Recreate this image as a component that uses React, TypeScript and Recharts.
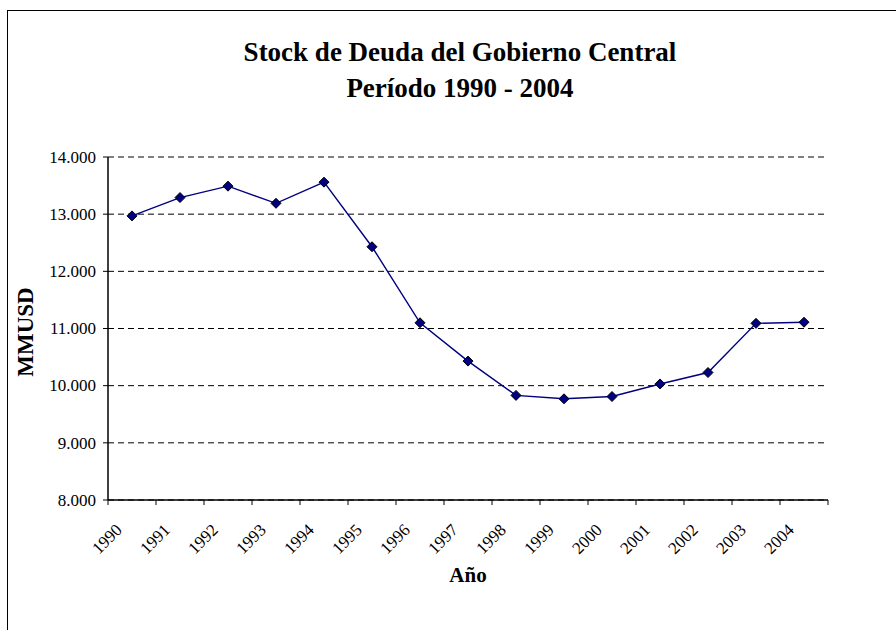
import { CartesianGrid, Line, LineChart, XAxis, YAxis } from 'recharts'

const years = ['1990', '1991', '1992', '1993', '1994', '1995', '1996', '1997', '1998', '1999', '2000', '2001', '2002', '2003', '2004']
const deuda = [12970, 13290, 13490, 13190, 13560, 12430, 11100, 10430, 9830, 9770, 9810, 10030, 10230, 11090, 11110]
const yTicks = [8000, 9000, 10000, 11000, 12000, 13000, 14000]

const data = years.map((year, i) => ({ year, deuda: deuda[i] }))

const FONT = '"Liberation Serif", "Times New Roman", serif'
const BAND = 48

function fmt(v: number) {
  return `${Math.round(v / 1000)}.000`
}

function YearTick(props: any) {
  const { x, y, payload, index } = props
  const last = index === years.length - 1
  return (
    <g>
      <line x1={x - BAND / 2} y1={y} x2={x - BAND / 2} y2={y + 5} stroke="#000" />
      {last && <line x1={x + BAND / 2} y1={y} x2={x + BAND / 2} y2={y + 5} stroke="#000" />}
      <text
        transform={`translate(${x - 9},${y + 31}) rotate(-45)`}
        textAnchor="end"
        fontFamily={FONT}
        fontSize={17}
        fill="#000"
      >
        {payload.value}
      </text>
    </g>
  )
}

function ValueTick(props: any) {
  const { x, y, payload } = props
  return (
    <text x={x} y={y} dy="0.34em" textAnchor="end" fontFamily={FONT} fontSize={17} fill="#000">
      {fmt(payload.value)}
    </text>
  )
}

function Diamond(props: any) {
  const { cx, cy, index } = props
  const r = 5
  return (
    <path
      key={`d-${index}`}
      d={`M${cx},${cy - r}L${cx + r},${cy}L${cx},${cy + r}L${cx - r},${cy}Z`}
      fill="#000080"
      stroke="#000"
      strokeWidth={1}
    />
  )
}

export default function App() {
  return (
    <div
      style={{
        position: 'absolute',
        left: 0,
        top: 0,
        width: 896,
        height: 630,
        background: '#fff',
        overflow: 'hidden',
        fontFamily: FONT,
      }}
    >
      <div
        style={{
          position: 'absolute',
          left: 7,
          top: 10,
          right: -2,
          bottom: -2,
          borderLeft: '1px solid #000',
          borderTop: '1px solid #000',
        }}
      />
      <LineChart
        width={896}
        height={630}
        data={data}
        margin={{ top: 157, right: 68, bottom: 50, left: 48 }}
        style={{ position: 'absolute', left: 0, top: 0, fontFamily: FONT }}
      >
        <CartesianGrid horizontal vertical={false} stroke="#000" strokeDasharray="6 4" />
        <XAxis
          dataKey="year"
          scale="band"
          height={80}
          axisLine={{ stroke: '#000', strokeWidth: 1.5 }}
          tickLine={false}
          tickSize={0}
          tickMargin={0}
          interval={0}
          tick={<YearTick />}
        />
        <YAxis
          width={60}
          domain={[8000, 14000]}
          ticks={yTicks}
          axisLine={{ stroke: '#000', strokeWidth: 1.5 }}
          tickLine={{ stroke: '#000' }}
          tickSize={5}
          tickMargin={7}
          tick={<ValueTick />}
        />
        <YAxis
          yAxisId="r"
          orientation="right"
          width={0}
          domain={[8000, 14000]}
          ticks={yTicks}
          tick={false}
          tickLine={false}
          axisLine={{ stroke: '#404040', strokeWidth: 2 }}
        />
        <Line
          type="linear"
          dataKey="deuda"
          stroke="#000080"
          strokeWidth={1.4}
          dot={(p: any) => <Diamond {...p} />}
          activeDot={false}
          isAnimationActive={false}
        />
      </LineChart>
      <svg
        width={896}
        height={630}
        style={{ position: 'absolute', left: 0, top: 0, pointerEvents: 'none' }}
      >
        <text x={460} y={61} textAnchor="middle" fontFamily={FONT} fontWeight="bold" fontSize={27}>
          Stock de Deuda del Gobierno Central
        </text>
        <text x={460} y={97} textAnchor="middle" fontFamily={FONT} fontWeight="bold" fontSize={27}>
          Período 1990 - 2004
        </text>
        <text
          transform="translate(33,332) rotate(-90)"
          textAnchor="middle"
          fontFamily={FONT}
          fontWeight="bold"
          fontSize={23}
        >
          MMUSD
        </text>
        <text x={468} y={582} textAnchor="middle" fontFamily={FONT} fontWeight="bold" fontSize={21}>
          Año
        </text>
      </svg>
    </div>
  )
}
